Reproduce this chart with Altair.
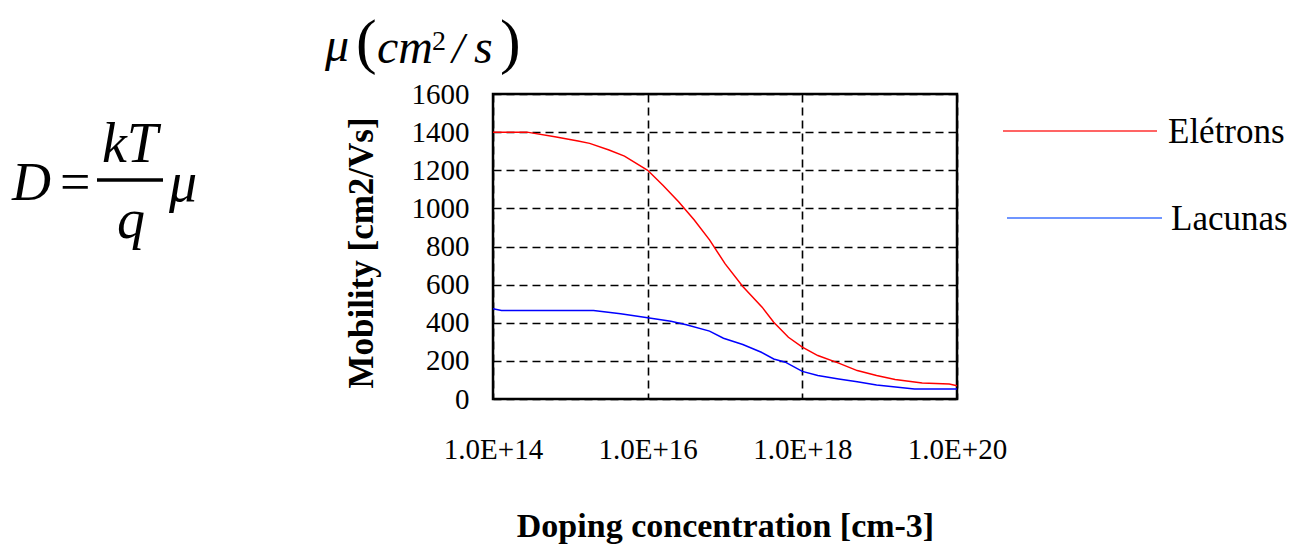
import altair as alt
import pandas as pd

# ---- data (x = log10 of doping concentration) ----
electron_logN = [14.0, 14.44, 14.8, 15.1, 15.25, 15.5, 15.7, 16.0, 16.2, 16.4, 16.6,
                 16.8, 17.0, 17.23, 17.48, 17.63, 17.82, 18.0, 18.2, 18.47, 18.71,
                 18.96, 19.2, 19.55, 19.9, 20.0]
electron_mu = [1400, 1400, 1376, 1353, 1341, 1306, 1274, 1200, 1120, 1035, 940,
               835, 710, 590, 482, 403, 324, 272, 228, 188, 149,
               123, 102, 84, 79, 70]
hole_logN = [14.0, 14.11, 15.3, 15.65, 16.0, 16.3, 16.5, 16.8, 16.98, 17.23, 17.47,
             17.63, 17.78, 18.0, 18.2, 18.47, 18.71, 18.96, 19.45, 20.0]
hole_mu = [473, 464, 464, 447, 426, 408, 389, 356, 319, 286, 245,
           210, 193, 145, 123, 105, 91, 74, 53, 53]

series_names = ["Elétrons", "Lacunas"]
series_colors = ["#ff0000", "#0000ff"]
legend_colors = ["#ff3030", "#6f95ff"]
x_ticks = [14, 16, 18, 20]
y_ticks = [0, 200, 400, 600, 800, 1000, 1200, 1400, 1600]

df = pd.concat([
    pd.DataFrame({"logN": electron_logN, "mu": electron_mu, "series": series_names[0]}),
    pd.DataFrame({"logN": hole_logN, "mu": hole_mu, "series": series_names[1]}),
])

SERIF = "Liberation Serif"
W, H = 464, 305

lines = alt.Chart(df).mark_line(strokeWidth=1.5, interpolate="linear").encode(
    x=alt.X("logN:Q",
            scale=alt.Scale(domain=[14, 20], nice=False, zero=False),
            axis=alt.Axis(values=x_ticks, labelExpr="'1.0E+' + datum.value",
                          labelFlush=False, labelPadding=36, labelFontSize=29,
                          labelFont=SERIF, labelColor="black",
                          title="Doping concentration [cm-3]",
                          titleFont=SERIF, titleFontSize=34, titleFontWeight="bold",
                          titleColor="black", titleX=W / 2, titleY=137,
                          titleAlign="center", titleBaseline="alphabetic",
                          grid=True, gridColor="black", gridDash=[8, 5],
                          gridWidth=1.6, gridOpacity=1)),
    y=alt.Y("mu:Q",
            scale=alt.Scale(domain=[0, 1600], nice=False),
            axis=alt.Axis(values=y_ticks, format="d", labelPadding=24, labelFontSize=29,
                          labelFont=SERIF, labelColor="black",
                          title="Mobility [cm2/Vs]",
                          titleFont=SERIF, titleFontSize=35, titleFontWeight="bold",
                          titleColor="black", titleX=-132, titleY=H / 2 + 6,
                          titleAngle=-90, titleAlign="center", titleBaseline="middle",
                          grid=True, gridColor="black", gridDash=[8, 5],
                          gridWidth=1.6, gridOpacity=1)),
    color=alt.Color("series:N",
                    scale=alt.Scale(domain=series_names, range=series_colors),
                    legend=None),
)

one = alt.Data(values=[{"k": 0}])


def txt(s, x, y, size, style="normal", weight="normal", align="left"):
    return alt.Chart(one).mark_text(
        text=s, font=SERIF, fontSize=size, fontStyle=style, fontWeight=weight,
        align=align, baseline="alphabetic", color="black"
    ).encode(x=alt.value(x), y=alt.value(y))


def rule(x1, x2, y, color, width):
    return alt.Chart(one).mark_rule(color=color, strokeWidth=width).encode(
        x=alt.value(x1), x2=alt.value(x2), y=alt.value(y))


# legend (drawn beside the plot)
legend_layers = [
    rule(510, 664, 37, legend_colors[0], 1.5),
    txt(series_names[0], 675, 49, 35),
    rule(514, 669, 124, legend_colors[1], 2),
    txt(series_names[1], 678, 136, 35),
]

# formula D = kT/q mu
formula_layers = [
    txt("D", -481, 106, 54, style="italic"),
    txt("=", -433, 106, 54),
    txt("kT", -363, 68, 56, style="italic", align="center"),
    rule(-396, -330, 86, "black", 3.5),
    txt("q", -362, 144, 56, style="italic", align="center"),
    txt("μ", -324, 107, 56, style="italic"),
]

# unit label mu (cm^2 / s)
unit_layers = [
    txt("μ", -168, -33, 48, style="italic"),
    txt("(", -137, -32, 62),
    txt("cm", -116, -31, 48, style="italic"),
    txt("2", -61, -44, 28),
    txt("/", -41, -31, 44, style="italic"),
    txt("s", -19, -31, 48, style="italic"),
    txt(")", 7, -32, 62),
]

chart = alt.layer(lines, *legend_layers, *formula_layers, *unit_layers).properties(
    width=W, height=H,
    padding={"left": 485, "top": 86, "right": 345, "bottom": 147},
    autosize=alt.AutoSizeParams(type="none"),
).configure_view(
    stroke="black", strokeWidth=2.5
).configure_axis(
    domain=False, ticks=False
)

chart.save("out.html", embed_options={"renderer": "svg", "actions": False})
